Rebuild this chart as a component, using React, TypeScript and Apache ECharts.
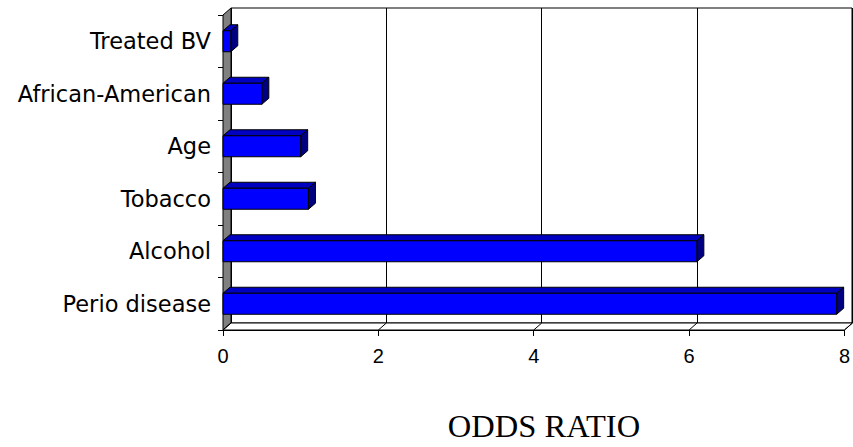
import React, { useEffect, useRef } from "react";
import * as echarts from "echarts";

const CATEGORIES = ["Treated BV", "African-American", "Age", "Tobacco", "Alcohol", "Perio disease"];
const ODDS_RATIOS = [0.1, 0.5, 1.0, 1.1, 6.1, 7.9];
const X_TICKS = [0, 2, 4, 6, 8];
const AXIS_TITLE = "ODDS RATIO";

const DX = 8;
const DY = -7;
const BDX = 7;
const BDY = -6;

export default function App() {
  const ref = useRef<HTMLDivElement>(null);
  useEffect(() => {
    const chart = echarts.init(ref.current as HTMLDivElement, null, { renderer: "svg" });
    chart.setOption({
      animation: false,
      backgroundColor: "#fff",
      grid: [
        { left: 223, right: 8, top: 15, bottom: 117, containLabel: false },
        {
          left: 231, right: 1, top: 8, bottom: 124, containLabel: false,
          show: true, borderColor: "#000", borderWidth: 1, backgroundColor: "transparent",
        },
      ],
      xAxis: [
        {
          type: "value", gridIndex: 0, min: 0, max: 8, interval: 2,
          axisLine: { show: true, lineStyle: { color: "#000", width: 1 } },
          axisTick: { show: true, length: 6, lineStyle: { color: "#000" } },
          axisLabel: { fontFamily: "Liberation Sans", fontSize: 20, color: "#000", margin: 16 },
          splitLine: { show: false },
        },
        {
          type: "value", gridIndex: 1, min: 0, max: 8, interval: 2,
          axisLine: { show: false }, axisTick: { show: false }, axisLabel: { show: false },
          splitLine: { show: true, lineStyle: { color: "#000", width: 1 } },
        },
      ],
      yAxis: [
        {
          type: "category", gridIndex: 0, data: CATEGORIES, inverse: true,
          axisLine: { show: true, lineStyle: { color: "#000", width: 1 } },
          axisTick: { show: true, length: 5, alignWithLabel: false, lineStyle: { color: "#000" } },
          axisLabel: { fontFamily: "DejaVu Sans", fontSize: 22.5, color: "#000", margin: 12 },
          splitLine: { show: false },
        },
        { type: "category", gridIndex: 1, data: CATEGORIES, inverse: true, show: false },
      ],
      series: [
        {
          type: "custom", xAxisIndex: 0, yAxisIndex: 0, z: 1,
          data: [[0, 0]],
          renderItem: (params: any) => {
            const cs = params.coordSys;
            const x0 = cs.x, y0 = cs.y, x1 = cs.x + cs.width, y1 = cs.y + cs.height;
            return {
              type: "group",
              children: [
                {
                  type: "polygon",
                  shape: { points: [[x0, y0], [x0 + DX, y0 + DY], [x0 + DX, y1 + DY], [x0, y1]] },
                  style: { fill: "#808080", stroke: "#000", lineWidth: 1 },
                },
                {
                  type: "polygon",
                  shape: { points: [[x0, y1], [x0 + DX, y1 + DY], [x1 + DX, y1 + DY], [x1, y1]] },
                  style: { fill: "#fff", stroke: "#000", lineWidth: 1 },
                },
              ],
            };
          },
        },
        {
          type: "custom", xAxisIndex: 0, yAxisIndex: 0, z: 2,
          data: X_TICKS.map((v) => [v, 0]),
          renderItem: (params: any, api: any) => {
            const cs = params.coordSys;
            const y1 = cs.y + cs.height;
            const x = api.coord([api.value(0), 0])[0];
            return {
              type: "line",
              shape: { x1: x, y1: y1, x2: x + DX, y2: y1 + DY },
              style: { stroke: "#000", lineWidth: 1 },
            };
          },
        },
        {
          type: "custom", name: AXIS_TITLE, xAxisIndex: 0, yAxisIndex: 0, z: 3,
          encode: { x: 0, y: 1 },
          data: ODDS_RATIOS.map((v, i) => [v, i]),
          renderItem: (params: any, api: any) => {
            const v = api.value(0);
            const c = api.value(1);
            const end = api.coord([v, c]);
            const start = api.coord([0, c]);
            const band = Math.abs(api.size([0, 1])[1]);
            const h = band * 0.4;
            const yT = end[1] - h / 2;
            const yB = end[1] + h / 2;
            const xs = start[0];
            const xe = end[0];
            return {
              type: "group",
              children: [
                {
                  type: "polygon",
                  shape: { points: [[xs, yT], [xs + BDX, yT + BDY], [xe + BDX, yT + BDY], [xe, yT]] },
                  style: { fill: "#0000C0", stroke: "#000", lineWidth: 1 },
                },
                {
                  type: "polygon",
                  shape: { points: [[xe, yT], [xe + BDX, yT + BDY], [xe + BDX, yB + BDY], [xe, yB]] },
                  style: { fill: "#000080", stroke: "#000", lineWidth: 1 },
                },
                {
                  type: "rect",
                  shape: { x: xs, y: yT, width: xe - xs, height: h },
                  style: { fill: "#0000FF", stroke: "#000", lineWidth: 1 },
                },
              ],
            };
          },
        },
      ],
      graphic: [
        {
          type: "text", x: 544, y: 426,
          style: {
            text: AXIS_TITLE, fontFamily: "Liberation Serif", fontSize: 32.5, fill: "#000",
            align: "center", verticalAlign: "middle",
          },
        },
      ],
    });
    return () => chart.dispose();
  }, []);
  return <div ref={ref} style={{ position: "absolute", left: 0, top: 0, width: 853, height: 447 }} />;
}
